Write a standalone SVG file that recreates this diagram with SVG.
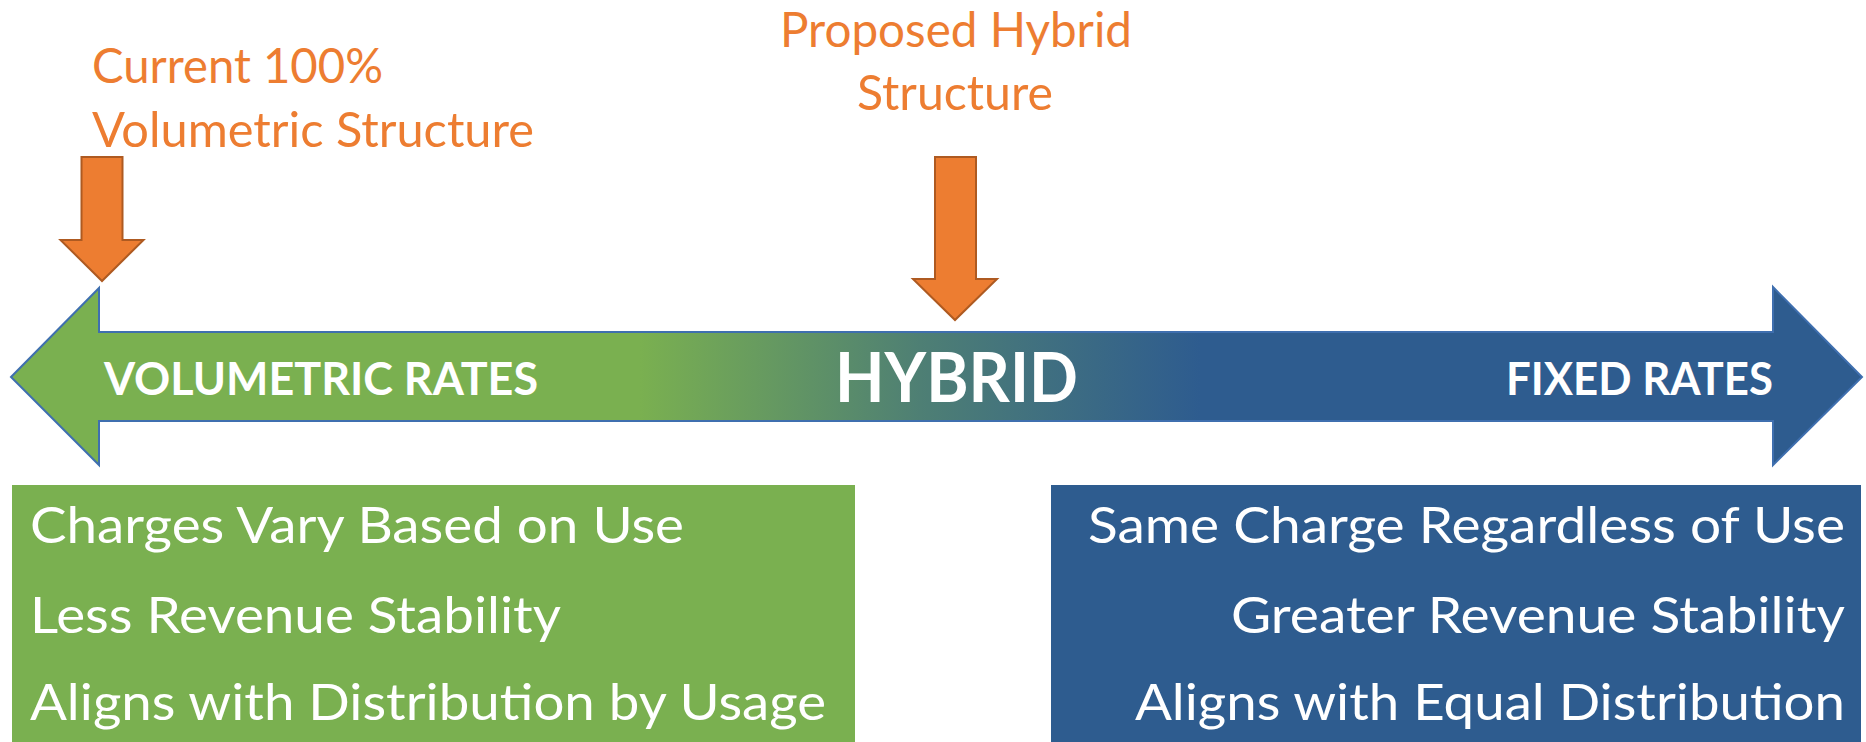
<svg xmlns="http://www.w3.org/2000/svg" width="1866" height="742" viewBox="0 0 1866 742">
<defs>
<linearGradient id="bar" gradientUnits="userSpaceOnUse" x1="640" y1="0" x2="1200" y2="0">
<stop offset="0" stop-color="#7AB050"/>
<stop offset="0.5" stop-color="#4E7F74"/>
<stop offset="1" stop-color="#2E5C8F"/>
</linearGradient>
<style>
.lbl{font-family:Lato,"Liberation Sans",sans-serif;fill:#ED7D31;font-size:48px}
.bar{font-family:Lato,"Liberation Sans",sans-serif;fill:#FFFFFF;font-weight:bold}
.box{font-family:Lato,"Liberation Sans",sans-serif;fill:#FFFFFF;font-size:50px}
.pointer{fill:#ED7D31;stroke:#AE5A21;stroke-width:2}
</style>
</defs>
<rect width="1866" height="742" fill="#FFFFFF"/>
<g id="scale-arrow">
<polygon points="11,377 99,288 99,332 1773,332 1773,287 1862,377 1773,465 1773,421 99,421 99,465" fill="url(#bar)" stroke="#3F6FAF" stroke-width="2"/>
<text class="bar" x="104" y="395" font-size="46" textLength="434" lengthAdjust="spacingAndGlyphs">VOLUMETRIC RATES</text>
<text class="bar" x="835" y="402" font-size="68" textLength="243" lengthAdjust="spacingAndGlyphs">HYBRID</text>
<text class="bar" x="1506" y="395" font-size="46" textLength="267" lengthAdjust="spacingAndGlyphs">FIXED RATES</text>
</g>
<g id="current-label">
<text class="lbl" x="92" y="83" textLength="291" lengthAdjust="spacingAndGlyphs">Current 100%</text>
<text class="lbl" x="92" y="147" textLength="442" lengthAdjust="spacingAndGlyphs">Volumetric Structure</text>
</g>
<g id="proposed-label">
<text class="lbl" x="780" y="47" textLength="352" lengthAdjust="spacingAndGlyphs">Proposed Hybrid</text>
<text class="lbl" x="857" y="110" textLength="196" lengthAdjust="spacingAndGlyphs">Structure</text>
</g>
<g id="connectors">
<polygon class="pointer" points="81.5,157 122.5,157 122.5,240 143.5,240 102,281 60.5,240 81.5,240"/>
<polygon class="pointer" points="935,157 976,157 976,279 997,279 955,320 913,279 935,279"/>
</g>
<g id="volumetric-box">
<rect x="12" y="485" width="843" height="257" fill="#7AB050"/>
<text class="box" x="30" y="543" textLength="654" lengthAdjust="spacingAndGlyphs">Charges Vary Based on Use</text>
<text class="box" x="30" y="633" textLength="531" lengthAdjust="spacingAndGlyphs">Less Revenue Stability</text>
<text class="box" x="30" y="720" textLength="796" lengthAdjust="spacingAndGlyphs">Aligns with Distribution by Usage</text>
</g>
<g id="fixed-box">
<rect x="1051" y="485" width="810" height="257" fill="#2E5C8F"/>
<text class="box" x="1088" y="543" textLength="757" lengthAdjust="spacingAndGlyphs">Same Charge Regardless of Use</text>
<text class="box" x="1231" y="633" textLength="614" lengthAdjust="spacingAndGlyphs">Greater Revenue Stability</text>
<text class="box" x="1135" y="720" textLength="710" lengthAdjust="spacingAndGlyphs">Aligns with Equal Distribution</text>
</g>
</svg>
